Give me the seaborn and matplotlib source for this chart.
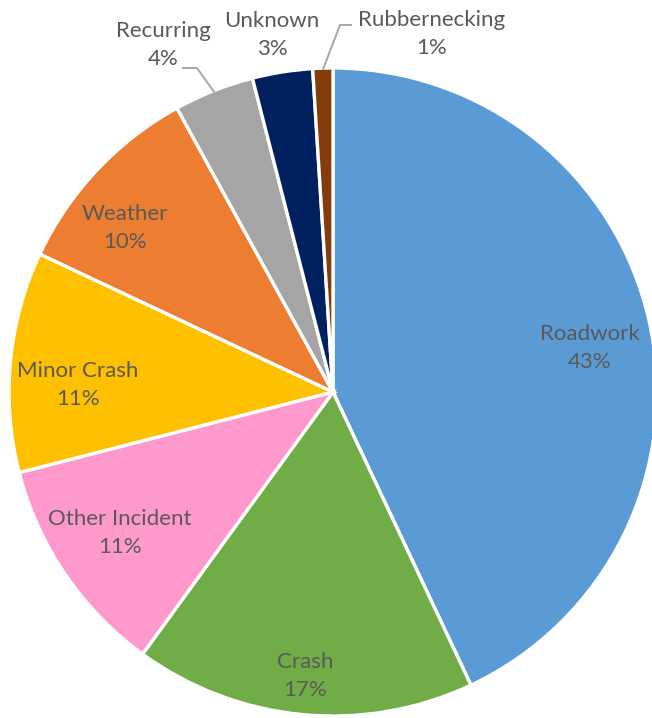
import numpy as np
import matplotlib
matplotlib.use("Agg")
import matplotlib.pyplot as plt
import seaborn as sns

# Share of congestion events by cause (percent)
categories = ["Roadwork", "Crash", "Other Incident", "Minor Crash",
              "Weather", "Recurring", "Unknown", "Rubbernecking"]
shares = [43, 17, 11, 11, 10, 4, 3, 1]
slice_colors = ["#5B9BD5", "#70AD47", "#FF99CC", "#FFC000",
                "#ED7D31", "#A5A5A5", "#002060", "#843C0C"]

sns.set_theme(style="white")
plt.rcParams["font.family"] = ["Lato", "DejaVu Sans"]

W, H = 652, 718
fig = plt.figure(figsize=(W / 100, H / 100), dpi=100)
ax = fig.add_axes([0, 0, 1, 1])

cx, cy, R = 333, H - 392, 324
wedges, _ = ax.pie(shares, colors=slice_colors, startangle=90, counterclock=False,
                   center=(cx, cy), radius=R,
                   wedgeprops=dict(edgecolor="white", linewidth=2.4))
ax.set_xlim(0, W)
ax.set_ylim(0, H)
ax.set_aspect("equal")
ax.axis("off")

# label block centres (pixel coords from top-left)
label_pos = {
    "Roadwork": (590, 348),
    "Crash": (305, 676),
    "Other Incident": (120, 533),
    "Minor Crash": (78, 385),
    "Weather": (125, 228),
    "Recurring": (163, 45),
    "Unknown": (272, 35),
    "Rubbernecking": (432, 34),
}
text_color = "#595959"
for name, val in zip(categories, shares):
    x, y = label_pos[name]
    ax.text(x, H - y, f"{name}\n{val}%", ha="center", va="center",
            fontsize=16, color=text_color, linespacing=1.45)

# leader lines for the thin slices
leaders = {
    "Recurring": [(197, 68), (182, 68)],
    "Rubbernecking": [(340, 25), (352, 25)],
}
for w, name in zip(wedges, categories):
    if name not in leaders:
        continue
    mid = np.deg2rad((w.theta1 + w.theta2) / 2)
    px, py = cx + R * 0.995 * np.cos(mid), cy + R * 0.995 * np.sin(mid)
    pts = [(px, py)] + [(x, H - y) for x, y in leaders[name]]
    xs, ys = zip(*pts)
    ax.plot(xs, ys, color="#A6A6A6", lw=1.4, solid_capstyle="butt")

fig.savefig("out.png", dpi=100, facecolor="white")
